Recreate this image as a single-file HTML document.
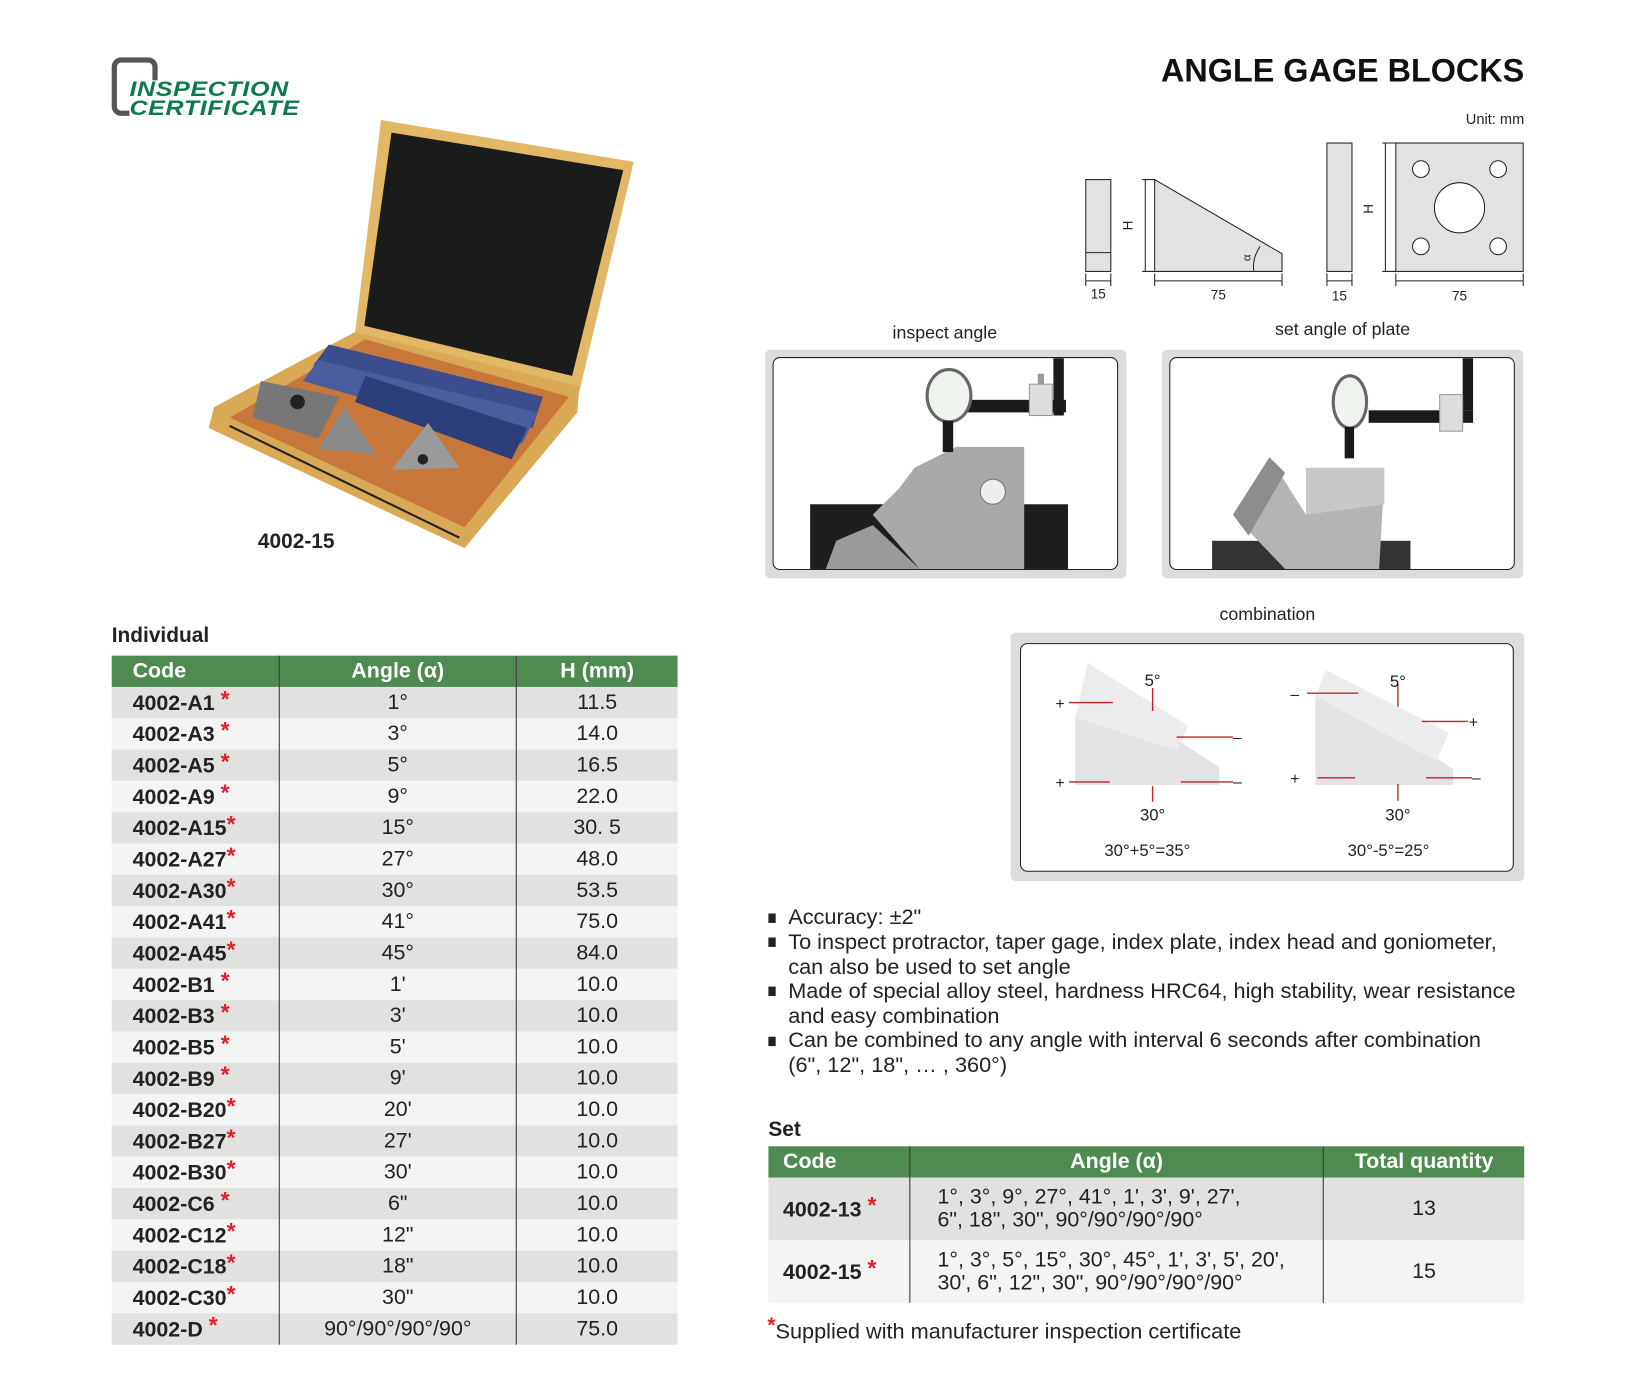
<!DOCTYPE html>
<html><head><meta charset="utf-8">
<style>
html,body{margin:0;padding:0;background:#fff;}
body{width:1637px;height:1387px;overflow:hidden;position:relative;}
#w{position:absolute;left:0;top:0;width:1560px;height:1322px;transform:scale(1.044);transform-origin:0 0;font-family:"Liberation Sans",Arial,sans-serif;color:#222;}
.a{position:absolute;}
table{border-collapse:collapse;position:absolute;}
td,th{padding:0;font-size:20.5px;}
th{background:#4d8b50;color:#fff;font-weight:bold;height:30px;}
.ind td{height:30px;text-align:center;}
.ind tr:nth-child(even) td{background:#e1e1df;}
.ind tr:nth-child(odd) td{background:#f4f4f4;}
.ind td:first-child{text-align:left;padding-left:20px;font-weight:bold;color:#222;}
.ind td+td{border-left:1px solid #333;}
th+th{border-left:1px solid #333;}
.st{color:#e0202a;font-weight:bold;font-size:22px;position:relative;top:-3px;}
.panel{position:absolute;background:#dcdcdc;border-radius:5px;}
.inner{position:absolute;background:#fff;border:1.5px solid #222;border-radius:7px;overflow:hidden;}
.bl{position:absolute;left:755px;font-size:20.8px;line-height:23.5px;color:#222;width:740px;}
.sq{position:absolute;left:736px;width:7px;height:9px;background:#222;}
</style></head><body><div id="w">

<!-- logo -->
<div class="a" style="left:107px;top:55px;width:44px;height:56px;border:5px solid #555;border-radius:9px;box-sizing:border-box;"></div>
<div class="a" style="left:124px;top:77px;background:#fff;font:italic 900 20px 'Liberation Sans',sans-serif;color:#0c7a4a;line-height:18px;letter-spacing:0.5px;transform:scaleX(1.2);transform-origin:0 0;">INSPECTION<br>CERTIFICATE</div>

<div class="a" style="right:100px;top:50px;font-size:31px;font-weight:bold;color:#111;">ANGLE GAGE BLOCKS</div>
<div class="a" style="right:100px;top:106px;font-size:14px;">Unit: mm</div>

<!-- case photo -->
<svg class="a" style="left:195px;top:110px" width="420" height="420" viewBox="195 110 420 420">
 <polygon points="365,115 607,155 555,375 340,320" fill="#e2b765"/>
 <polygon points="375,127 597,163 548,360 349,312" fill="#1b1b1b"/>
 <polygon points="340,318 555,370 553,395 445,525 200,410 205,390" fill="#d9a955"/>
 <polygon points="350,325 545,380 445,505 220,400" fill="#c7773a"/>
 <polygon points="315,330 520,380 510,410 300,350" fill="#3b4d8c"/>
 <polygon points="305,345 515,395 500,425 290,365" fill="#4a5d9e"/>
 <polygon points="350,360 505,410 490,440 340,385" fill="#2c3f7a"/>
 <polygon points="250,365 325,380 305,420 242,400" fill="#777"/>
 <circle cx="285" cy="385" r="7" fill="#222"/>
 <polygon points="330,390 360,435 305,430" fill="#8a8a8a"/>
 <polygon points="410,405 440,448 375,450" fill="#9a9a9a"/>
 <circle cx="405" cy="440" r="5" fill="#222"/>
 <line x1="220" y1="408" x2="440" y2="515" stroke="#222" stroke-width="2"/>
</svg>
<div class="a" style="left:247px;top:508px;font-size:20px;font-weight:bold;">4002-15</div>

<!-- dimension drawing -->
<svg class="a" style="left:1020px;top:130px" width="460" height="160" viewBox="1020 130 460 160" font-family="Liberation Sans,Arial,sans-serif" font-size="13" fill="#222">
 <g stroke="#222" stroke-width="1">
 <rect x="1040" y="172" width="24" height="88" fill="#e2e2e2"/>
 <line x1="1040" y1="242" x2="1064" y2="242"/>
 <polygon points="1106,172 1228,243 1228,260 1106,260" fill="#e2e2e2"/>
 <line x1="1097" y1="172" x2="1097" y2="260"/>
 <line x1="1094" y1="172" x2="1106" y2="172"/><line x1="1094" y1="260" x2="1106" y2="260"/>
 <path d="M1207,236 Q1199,248 1201,260" fill="none"/>
 <rect x="1271" y="137" width="24" height="123" fill="#e2e2e2"/>
 <rect x="1337" y="137" width="122" height="123" fill="#e2e2e2"/>
 <line x1="1327" y1="137" x2="1327" y2="260"/>
 <line x1="1324" y1="137" x2="1337" y2="137"/><line x1="1324" y1="260" x2="1337" y2="260"/>
 <circle cx="1361" cy="162" r="8" fill="#fff"/><circle cx="1435" cy="162" r="8" fill="#fff"/>
 <circle cx="1361" cy="236" r="8" fill="#fff"/><circle cx="1435" cy="236" r="8" fill="#fff"/>
 <circle cx="1398" cy="199" r="24" fill="#fff"/>
 <line x1="1040" y1="269" x2="1064" y2="269"/><line x1="1106" y1="269" x2="1228" y2="269"/>
 <line x1="1271" y1="269" x2="1295" y2="269"/><line x1="1337" y1="269" x2="1459" y2="269"/>
 <line x1="1040" y1="262" x2="1040" y2="274"/><line x1="1064" y1="262" x2="1064" y2="274"/>
 <line x1="1106" y1="262" x2="1106" y2="274"/><line x1="1228" y1="262" x2="1228" y2="274"/>
 <line x1="1271" y1="262" x2="1271" y2="274"/><line x1="1295" y1="262" x2="1295" y2="274"/>
 <line x1="1337" y1="262" x2="1337" y2="274"/><line x1="1459" y1="262" x2="1459" y2="274"/>
 </g>
 <text x="1052" y="286" text-anchor="middle">15</text>
 <text x="1167" y="287" text-anchor="middle">75</text>
 <text x="1283" y="288" text-anchor="middle">15</text>
 <text x="1398" y="288" text-anchor="middle">75</text>
 <text transform="translate(1085,216) rotate(-90)" text-anchor="middle">H</text>
 <text transform="translate(1315,200) rotate(-90)" text-anchor="middle">H</text>
 <text transform="translate(1198,247) rotate(-90)" text-anchor="middle" font-size="11">α</text>
</svg>

<div class="a" style="left:805px;width:200px;text-align:center;top:309px;font-size:17px;">inspect angle</div>
<div class="a" style="left:1186px;width:200px;text-align:center;top:306px;font-size:17px;">set angle of plate</div>

<div class="panel" style="left:733px;top:335px;width:346px;height:219px;"></div>
<div class="inner" style="left:740px;top:342px;width:329px;height:202px;">
<svg width="329" height="202">
 <rect x="35" y="140" width="247" height="62" fill="#1e1e1e"/>
 <polygon points="135,105 175,85 240,85 240,202 140,202 95,150 120,125" fill="#a9a9a9"/>
 <polygon points="60,175 95,160 140,202 50,202" fill="#9a9a9a"/>
 <circle cx="210" cy="128" r="12" fill="#eee" stroke="#777"/>
 <rect x="268" y="0" width="10" height="55" fill="#1a1a1a"/>
 <rect x="180" y="40" width="100" height="12" fill="#1a1a1a"/>
 <rect x="245" y="25" width="22" height="30" fill="#ddd" stroke="#999"/>
 <rect x="253" y="15" width="6" height="10" fill="#999"/>
 <ellipse cx="168" cy="36" rx="21" ry="25" fill="#eef3ee" stroke="#666" stroke-width="3"/>
 <rect x="162" y="60" width="10" height="30" fill="#1a1a1a"/>
</svg></div>

<div class="panel" style="left:1113px;top:335px;width:346px;height:219px;"></div>
<div class="inner" style="left:1120px;top:342px;width:329px;height:202px;">
<svg width="329" height="202">
 <rect x="40" y="175" width="190" height="27" fill="#333"/>
 <polygon points="95,95 130,150 205,115 200,202 110,202 60,150" fill="#b4b4b4"/>
 <polygon points="130,105 205,105 205,140 130,150" fill="#c8c8c8"/>
 <polygon points="60,150 95,95 110,110 75,170" fill="#8d8d8d"/>
 <rect x="280" y="0" width="10" height="50" fill="#1a1a1a"/>
 <rect x="190" y="50" width="100" height="12" fill="#1a1a1a"/>
 <rect x="258" y="35" width="22" height="35" fill="#ddd" stroke="#999"/>
 <ellipse cx="172" cy="42" rx="16" ry="25" fill="#eef3ee" stroke="#666" stroke-width="3"/>
 <rect x="167" y="66" width="9" height="30" fill="#1a1a1a"/>
</svg></div>

<div class="a" style="left:1114px;width:200px;text-align:center;top:579px;font-size:17px;">combination</div>
<div class="panel" style="left:968px;top:606px;width:492px;height:238px;"></div>
<div class="inner" style="left:977px;top:616px;width:471px;height:217px;">
<svg width="471" height="217" font-family="Liberation Sans,Arial,sans-serif" font-size="16" fill="#222">
 <polygon points="52,70 52,135 190,135 190,118 150,92" fill="#e3e3e6"/>
 <polygon points="52,70 64,18 160,78 150,102" fill="#ececef"/>
 <polygon points="282,50 282,135 414,135 414,120 368,88" fill="#e3e3e6"/>
 <polygon points="282,50 292,25 410,85 398,112" fill="#ececef"/>
 <g stroke="#c8202a" stroke-width="1.3">
 <line x1="46" y1="56" x2="88" y2="56"/><line x1="46" y1="132" x2="85" y2="132"/>
 <line x1="149" y1="89" x2="203" y2="89"/><line x1="153" y1="132" x2="203" y2="132"/>
 <line x1="126" y1="42" x2="126" y2="64"/><line x1="126" y1="136" x2="126" y2="151"/>
 <line x1="274" y1="47" x2="323" y2="47"/><line x1="384" y1="74" x2="428" y2="74"/>
 <line x1="284" y1="128" x2="320" y2="128"/><line x1="388" y1="128" x2="432" y2="128"/>
 <line x1="361" y1="38" x2="361" y2="60"/><line x1="361" y1="134" x2="361" y2="150"/>
 </g>
 <text x="33" y="62" font-size="15">+</text><text x="33" y="138" font-size="15">+</text>
 <text x="203" y="94" font-size="15">–</text><text x="203" y="137" font-size="15">–</text>
 <text x="258" y="53" font-size="15">–</text><text x="429" y="80" font-size="15">+</text>
 <text x="258" y="134" font-size="15">+</text><text x="432" y="133" font-size="15">–</text>
 <text x="126" y="40" text-anchor="middle">5°</text><text x="361" y="41" text-anchor="middle">5°</text>
 <text x="126" y="169" text-anchor="middle">30°</text><text x="361" y="169" text-anchor="middle">30°</text>
 <text x="121" y="203" text-anchor="middle">30°+5°=35°</text><text x="352" y="203" text-anchor="middle">30°-5°=25°</text>
</svg></div>

<!-- bullets -->
<div class="sq" style="top:875px"></div><div class="bl" style="top:867px">Accuracy: ±2"</div>
<div class="sq" style="top:898px"></div><div class="bl" style="top:891px">To inspect protractor, taper gage, index plate, index head and goniometer,<br>can also be used to set angle</div>
<div class="sq" style="top:945px"></div><div class="bl" style="top:938px">Made of special alloy steel, hardness HRC64, high stability, wear resistance<br>and easy combination</div>
<div class="sq" style="top:993px"></div><div class="bl" style="top:985px">Can be combined to any angle with interval 6 seconds after combination<br>(6", 12", 18", … , 360°)</div>

<!-- individual -->
<div class="a" style="left:107px;top:598px;font-size:20px;font-weight:bold;">Individual</div>
<table class="ind" style="left:107px;top:628px;width:542px;">
<tr><th style="width:140px;text-align:left;padding-left:20px;">Code</th><th style="width:226px">Angle (α)</th><th>H (mm)</th></tr>
<tr><td>4002-A1 <span class="st">*</span></td><td>1°</td><td>11.5</td></tr>
<tr><td>4002-A3 <span class="st">*</span></td><td>3°</td><td>14.0</td></tr>
<tr><td>4002-A5 <span class="st">*</span></td><td>5°</td><td>16.5</td></tr>
<tr><td>4002-A9 <span class="st">*</span></td><td>9°</td><td>22.0</td></tr>
<tr><td>4002-A15<span class="st">*</span></td><td>15°</td><td>30. 5</td></tr>
<tr><td>4002-A27<span class="st">*</span></td><td>27°</td><td>48.0</td></tr>
<tr><td>4002-A30<span class="st">*</span></td><td>30°</td><td>53.5</td></tr>
<tr><td>4002-A41<span class="st">*</span></td><td>41°</td><td>75.0</td></tr>
<tr><td>4002-A45<span class="st">*</span></td><td>45°</td><td>84.0</td></tr>
<tr><td>4002-B1 <span class="st">*</span></td><td>1'</td><td>10.0</td></tr>
<tr><td>4002-B3 <span class="st">*</span></td><td>3'</td><td>10.0</td></tr>
<tr><td>4002-B5 <span class="st">*</span></td><td>5'</td><td>10.0</td></tr>
<tr><td>4002-B9 <span class="st">*</span></td><td>9'</td><td>10.0</td></tr>
<tr><td>4002-B20<span class="st">*</span></td><td>20'</td><td>10.0</td></tr>
<tr><td>4002-B27<span class="st">*</span></td><td>27'</td><td>10.0</td></tr>
<tr><td>4002-B30<span class="st">*</span></td><td>30'</td><td>10.0</td></tr>
<tr><td>4002-C6 <span class="st">*</span></td><td>6"</td><td>10.0</td></tr>
<tr><td>4002-C12<span class="st">*</span></td><td>12"</td><td>10.0</td></tr>
<tr><td>4002-C18<span class="st">*</span></td><td>18"</td><td>10.0</td></tr>
<tr><td>4002-C30<span class="st">*</span></td><td>30"</td><td>10.0</td></tr>
<tr><td>4002-D <span class="st">*</span></td><td>90°/90°/90°/90°</td><td>75.0</td></tr>
</table>

<!-- set -->
<div class="a" style="left:736px;top:1071px;font-size:20px;font-weight:bold;">Set</div>
<table class="ind" style="left:736px;top:1098px;width:724px;">
<tr><th style="width:121px;text-align:left;padding-left:14px;">Code</th><th style="width:395px">Angle (α)</th><th>Total quantity</th></tr>
<tr><td style="height:60px;padding-left:14px;">4002-13 <span class="st">*</span></td><td style="text-align:left;padding-left:26px;line-height:22px;">1°, 3°, 9°, 27°, 41°, 1', 3', 9', 27',<br>6", 18", 30", 90°/90°/90°/90°</td><td>13</td></tr>
<tr><td style="height:60px;padding-left:14px;">4002-15 <span class="st">*</span></td><td style="text-align:left;padding-left:26px;line-height:22px;">1°, 3°, 5°, 15°, 30°, 45°, 1', 3', 5', 20',<br>30', 6", 12", 30", 90°/90°/90°/90°</td><td>15</td></tr>
</table>
<div class="a" style="left:735px;top:1264px;font-size:20.8px;"><span class="st" style="font-size:20px;top:-6px;">*</span>Supplied with manufacturer inspection certificate</div>

</div></body></html>
